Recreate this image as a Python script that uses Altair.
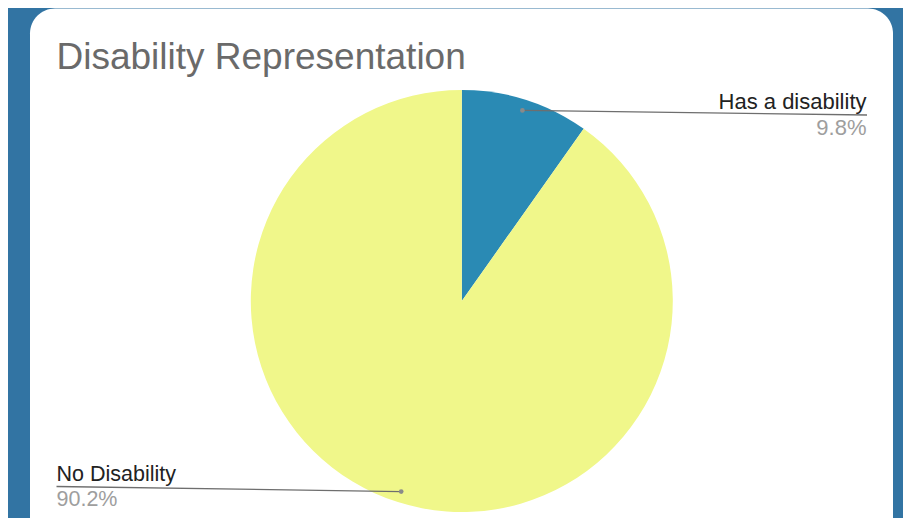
import math
import altair as alt
import pandas as pd

# ---- data ----
categories = ["Has a disability", "No Disability"]
values = [9.8, 90.2]
pct_labels = ["9.8%", "90.2%"]
slice_colors = ["#2a8ab4", "#f0f78a"]
title_text = "Disability Representation"

# ---- layout (chart pixel coords) ----
W, H = 895, 510
CX, CY, R = 453.8, 291.0, 211.0
DOT_R = 200.0
FONT = "Liberation Sans, Arial, sans-serif"

total = sum(values)
rows = []
start = 0.0
for i, (c, v, p) in enumerate(zip(categories, values, pct_labels)):
    mid = (start + v / 2) / total * 2 * math.pi
    start += v
    rows.append({
        "cat": c, "val": v, "pct": p, "order": i,
        "dx": CX + DOT_R * math.sin(mid),
        "dy": CY - DOT_R * math.cos(mid),
    })
df = pd.DataFrame(rows)

# label anchors: right side for first slice, left side for second
anchor = {
    "Has a disability": dict(tx=858.5, ty=98.5, py=125.0, lx=859.0, ly=105.0, align="right"),
    "No Disability": dict(tx=48.5, ty=471.0, py=495.5, lx=48.5, ly=476.5, align="left"),
}
for k in ["tx", "ty", "py", "lx", "ly"]:
    df[k] = df["cat"].map(lambda c: anchor[c][k])
df["align"] = df["cat"].map(lambda c: anchor[c]["align"])

one = alt.Data(values=[{}])

card = alt.Chart(one).mark_rect(color="white", cornerRadius=25).encode(
    x=alt.value(22), x2=alt.value(885), y=alt.value(-1.5), y2=alt.value(532)
)

title = alt.Chart(one).mark_text(
    text=title_text, font=FONT, fontSize=37, color="#6a6a6a",
    align="left", baseline="alphabetic"
).encode(x=alt.value(48.5), y=alt.value(58.5))

pie = alt.Chart(df).mark_arc(radius=R).encode(
    theta=alt.Theta("val:Q", stack=True),
    order=alt.Order("order:Q"),
    color=alt.Color("cat:N", scale=alt.Scale(domain=categories, range=slice_colors), legend=None),
    x=alt.value(CX), y=alt.value(CY),
)

lines = alt.Chart(df).mark_rule(color="#6e6e6e", strokeWidth=1.3).encode(
    x=alt.X("dx:Q", scale=None), y=alt.Y("dy:Q", scale=None),
    x2="lx:Q", y2="ly:Q",
)

dots = alt.Chart(df).mark_circle(color="#8a8a8a", opacity=1, size=22).encode(
    x=alt.X("dx:Q", scale=None), y=alt.Y("dy:Q", scale=None)
)

right_df = df[df["align"] == "right"]
left_df = df[df["align"] == "left"]

def labels(d, align, size):
    name = alt.Chart(d).mark_text(
        font=FONT, fontSize=size, color="#222222", align=align, baseline="alphabetic"
    ).encode(x=alt.X("tx:Q", scale=None), y=alt.Y("ty:Q", scale=None), text="cat:N")
    pct = alt.Chart(d).mark_text(
        font=FONT, fontSize=size, color="#9e9e9e", align=align, baseline="alphabetic"
    ).encode(x=alt.X("tx:Q", scale=None), y=alt.Y("py:Q", scale=None), text="pct:N")
    return name + pct

chart = alt.layer(
    card, title, pie, lines, dots, labels(right_df, "right", 22), labels(left_df, "left", 21.5)
).properties(
    width=W, height=H,
    autosize=alt.AutoSizeParams(type="fit", contains="padding"),
    padding=0,
).configure(background="#3274a3").configure_view(stroke=None)

chart.save("out.html", embed_options={"renderer": "svg", "actions": False})
